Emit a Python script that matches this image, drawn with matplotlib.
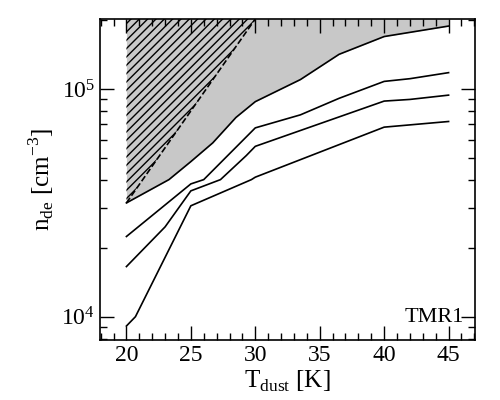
import matplotlib
matplotlib.use("Agg")
import matplotlib.pyplot as plt
import numpy as np
from matplotlib.ticker import LogLocator, NullFormatter, MultipleLocator

plt.rcParams['font.family'] = ['Liberation Serif']
plt.rcParams['mathtext.fontset'] = 'custom'
plt.rcParams['mathtext.rm'] = 'Liberation Serif'
plt.rcParams['hatch.linewidth'] = 1.0

t1 = [20, 23.3, 25, 26.7, 28.5, 30, 33.5, 36.5, 40, 45]
n1 = [3.16e4, 4.0e4, 4.8e4, 5.8e4, 7.5e4, 8.8e4, 1.1e5, 1.42e5, 1.7e5, 1.89e5]
t2 = [20, 25, 26, 30, 33.5, 36.5, 40, 42, 45]
n2 = [2.25e4, 3.83e4, 4.0e4, 6.75e4, 7.7e4, 9.1e4, 1.08e5, 1.11e5, 1.18e5]
t3 = [20, 23, 25, 27.3, 29.3, 30, 40, 42, 45]
n3 = [1.66e4, 2.48e4, 3.57e4, 4.0e4, 5.1e4, 5.6e4, 8.85e4, 9.0e4, 9.4e4]
t4 = [20, 20.7, 25, 29.7, 30, 40, 45]
n4 = [9.1e3, 1.0e4, 3.07e4, 4.0e4, 4.1e4, 6.8e4, 7.2e4]
td = [20, 30]
nd = [3.16e4, 2.03e5]
ytop = 2.03e5

fig = plt.figure(figsize=(5, 4), dpi=100)
ax = fig.add_axes([0.2, 0.15, 0.75, 0.8025])
ax.fill_between(t1, n1, ytop, color='#c8c8c8', lw=0)
ax.fill_between(td, nd, ytop, facecolor='none', edgecolor='k', hatch='////', lw=0)
ax.plot(td, nd, 'k--', lw=1.2)
for t, n in [(t1, n1), (t2, n2), (t3, n3), (t4, n4)]:
    ax.plot(t, n, 'k-', lw=1.2)
ax.set_yscale('log')
ax.set_xlim(17.95, 47.05)
ax.set_ylim(7.9e3, ytop)
ax.xaxis.set_major_locator(MultipleLocator(5))
ax.xaxis.set_minor_locator(MultipleLocator(1))
ax.yaxis.set_minor_locator(LogLocator(subs=np.arange(2, 10)))
ax.yaxis.set_minor_formatter(NullFormatter())
ax.tick_params(which='both', direction='in', top=True, right=True, labelsize=17)
ax.tick_params(which='major', length=10, width=1)
ax.tick_params(which='minor', length=5, width=1)
for s in ax.spines.values():
    s.set_linewidth(1.2)
ax.set_xlabel(r'T$_{\rm dust}$ [K]', fontsize=18, labelpad=2)
ax.set_ylabel(r'n$_{\rm de}$ [cm$^{-3}$]', fontsize=18)
ax.text(0.97, 0.04, 'TMR1', transform=ax.transAxes, ha='right', va='bottom', fontsize=16)
fig.savefig('out.png', dpi=100)
